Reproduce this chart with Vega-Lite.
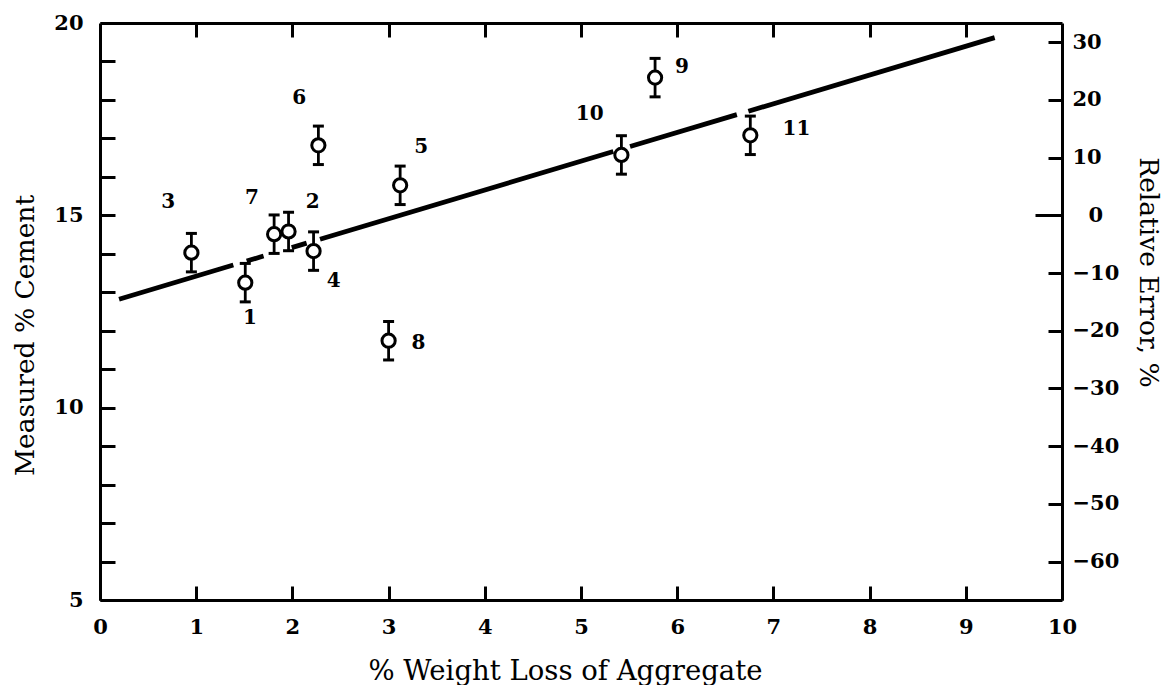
{
  "$schema": "https://vega.github.io/schema/vega-lite/v6.json",
  "width": 962,
  "height": 577,
  "autosize": "none",
  "padding": {"left": 100, "top": 23, "right": 101, "bottom": 85},
  "background": "white",
  "config": {
    "view": {"stroke": null},
    "font": "DejaVu Serif",
    "axis": {
      "domainColor": "black",
      "domainWidth": 3,
      "tickColor": "black",
      "tickWidth": 3,
      "grid": false,
      "labelFont": "DejaVu Serif",
      "labelFontSize": 21,
      "labelFontWeight": "bold",
      "labelColor": "black",
      "titleFont": "DejaVu Serif",
      "titleFontSize": 26.5,
      "titleFontWeight": "normal",
      "titleColor": "black"
    }
  },
  "datasets": {
    "pts": [
      {"id": "1", "x": 1.51, "y": 13.25, "lo": 12.75, "hi": 13.75, "lx": 1.56, "ly": 12.32},
      {"id": "2", "x": 1.96, "y": 14.58, "lo": 14.08, "hi": 15.08, "lx": 2.21, "ly": 15.35},
      {"id": "3", "x": 0.95, "y": 14.03, "lo": 13.53, "hi": 14.53, "lx": 0.71, "ly": 15.35},
      {"id": "4", "x": 2.22, "y": 14.07, "lo": 13.57, "hi": 14.57, "lx": 2.43, "ly": 13.28},
      {"id": "5", "x": 3.12, "y": 15.78, "lo": 15.28, "hi": 16.28, "lx": 3.34, "ly": 16.78},
      {"id": "6", "x": 2.27, "y": 16.82, "lo": 16.32, "hi": 17.32, "lx": 2.07, "ly": 18.04},
      {"id": "7", "x": 1.81, "y": 14.51, "lo": 14.01, "hi": 15.01, "lx": 1.58, "ly": 15.44},
      {"id": "8", "x": 3.0, "y": 11.74, "lo": 11.24, "hi": 12.24, "lx": 3.31, "ly": 11.68},
      {"id": "9", "x": 5.77, "y": 18.58, "lo": 18.08, "hi": 19.08, "lx": 6.05, "ly": 18.86},
      {"id": "10", "x": 5.42, "y": 16.57, "lo": 16.07, "hi": 17.07, "lx": 5.09, "ly": 17.63},
      {"id": "11", "x": 6.76, "y": 17.08, "lo": 16.58, "hi": 17.58, "lx": 7.24, "ly": 17.24}
    ],
    "fit": [
      {"seg": "a", "x": 0.198, "y": 12.82},
      {"seg": "a", "x": 1.386, "y": 13.707},
      {"seg": "b", "x": 1.525, "y": 13.811},
      {"seg": "b", "x": 1.7, "y": 13.942},
      {"seg": "c", "x": 1.993, "y": 14.161},
      {"seg": "c", "x": 2.148, "y": 14.277},
      {"seg": "d", "x": 2.287, "y": 14.38},
      {"seg": "d", "x": 5.336, "y": 16.658},
      {"seg": "e", "x": 5.51, "y": 16.788},
      {"seg": "e", "x": 6.62, "y": 17.617},
      {"seg": "f", "x": 6.74, "y": 17.707},
      {"seg": "f", "x": 9.3, "y": 19.619}
    ],
    "frame": [
      {"x": 0, "err": -66.667},
      {"x": 10, "err": 33.333}
    ]
  },
  "layer": [
    {
      "layer": [
        {
          "data": {"name": "fit"},
          "mark": {"type": "line", "color": "black", "strokeWidth": 4.8, "strokeCap": "butt"},
          "encoding": {
            "x": {"field": "x", "type": "quantitative"},
            "y": {"field": "y", "type": "quantitative"},
            "detail": {"field": "seg"}
          }
        },
        {
          "data": {"name": "pts"},
          "mark": {"type": "rule", "color": "black", "strokeWidth": 2.8},
          "encoding": {
            "x": {"field": "x", "type": "quantitative"},
            "y": {"field": "lo", "type": "quantitative"},
            "y2": {"field": "hi"}
          }
        },
        {
          "data": {"name": "pts"},
          "mark": {"type": "tick", "orient": "horizontal", "color": "black", "size": 11, "thickness": 3, "opacity": 1},
          "encoding": {
            "x": {"field": "x", "type": "quantitative"},
            "y": {"field": "lo", "type": "quantitative"}
          }
        },
        {
          "data": {"name": "pts"},
          "mark": {"type": "tick", "orient": "horizontal", "color": "black", "size": 11, "thickness": 3, "opacity": 1},
          "encoding": {
            "x": {"field": "x", "type": "quantitative"},
            "y": {"field": "hi", "type": "quantitative"}
          }
        },
        {
          "data": {"name": "pts"},
          "mark": {"type": "point", "shape": "circle", "filled": false, "fill": "white", "fillOpacity": 1, "stroke": "black", "strokeWidth": 3, "size": 175, "opacity": 1},
          "encoding": {
            "x": {"field": "x", "type": "quantitative"},
            "y": {"field": "y", "type": "quantitative"}
          }
        },
        {
          "data": {"name": "pts"},
          "mark": {"type": "text", "font": "DejaVu Serif", "fontSize": 20, "fontWeight": "bold", "color": "black", "align": "center", "baseline": "middle"},
          "encoding": {
            "x": {"field": "lx", "type": "quantitative"},
            "y": {"field": "ly", "type": "quantitative"},
            "text": {"field": "id"}
          }
        }
      ],
      "encoding": {
        "x": {
          "field": "x", "type": "quantitative",
          "scale": {"domain": [0, 10], "nice": false, "zero": false},
          "axis": {
            "orient": "bottom",
            "title": "% Weight Loss of Aggregate",
            "titleFontSize": 27.5,
            "titleX": 465,
            "values": [0, 1, 2, 3, 4, 5, 6, 7, 8, 9, 10],
            "tickSize": -14,
            "labelPadding": 30,
            "titlePadding": 20,
            "labelFlush": false
          }
        },
        "y": {
          "type": "quantitative",
          "scale": {"domain": [5, 20], "nice": false, "zero": false},
          "axis": {
            "orient": "left",
            "title": "Measured % Cement",
            "values": [5, 6, 7, 8, 9, 10, 11, 12, 13, 14, 15, 16, 17, 18, 19, 20],
            "labelExpr": "datum.value % 5 === 0 ? datum.label : ''",
            "tickSize": -15,
            "labelPadding": 32,
            "titlePadding": 14,
            "titleY": 312,
            "labelFlush": false
          }
        }
      }
    },
    {
      "data": {"name": "frame"},
      "mark": {"type": "point", "opacity": 0},
      "encoding": {
        "x": {
          "field": "x", "type": "quantitative",
          "scale": {"domain": [0, 10], "nice": false, "zero": false},
          "axis": {
            "orient": "top",
            "title": null,
            "labels": false,
            "values": [1, 2, 3, 4, 5, 6, 7, 8, 9],
            "tickSize": -14
          }
        }
      }
    },
    {
      "data": {"name": "frame"},
      "mark": {"type": "point", "opacity": 0},
      "encoding": {
        "y": {
          "field": "err", "type": "quantitative",
          "scale": {"domain": [-66.667, 33.333], "nice": false, "zero": false},
          "axis": {
            "orient": "right",
            "title": "Relative Error, %",
            "values": [-60, -50, -40, -30, -20, -10, 0, 10, 20, 30],
            "tickSize": {"condition": {"test": "datum.value === 0", "value": -27}, "value": -14},
            "labelPadding": {"condition": {"test": "datum.value === 0", "value": 53}, "value": 24},
            "titleX": 85,
            "titleBaseline": "middle",
            "titleY": 249,
            "labelFlush": false
          }
        }
      }
    }
  ],
  "resolve": {
    "scale": {"y": "independent"},
    "axis": {"x": "independent", "y": "independent"}
  }
}
